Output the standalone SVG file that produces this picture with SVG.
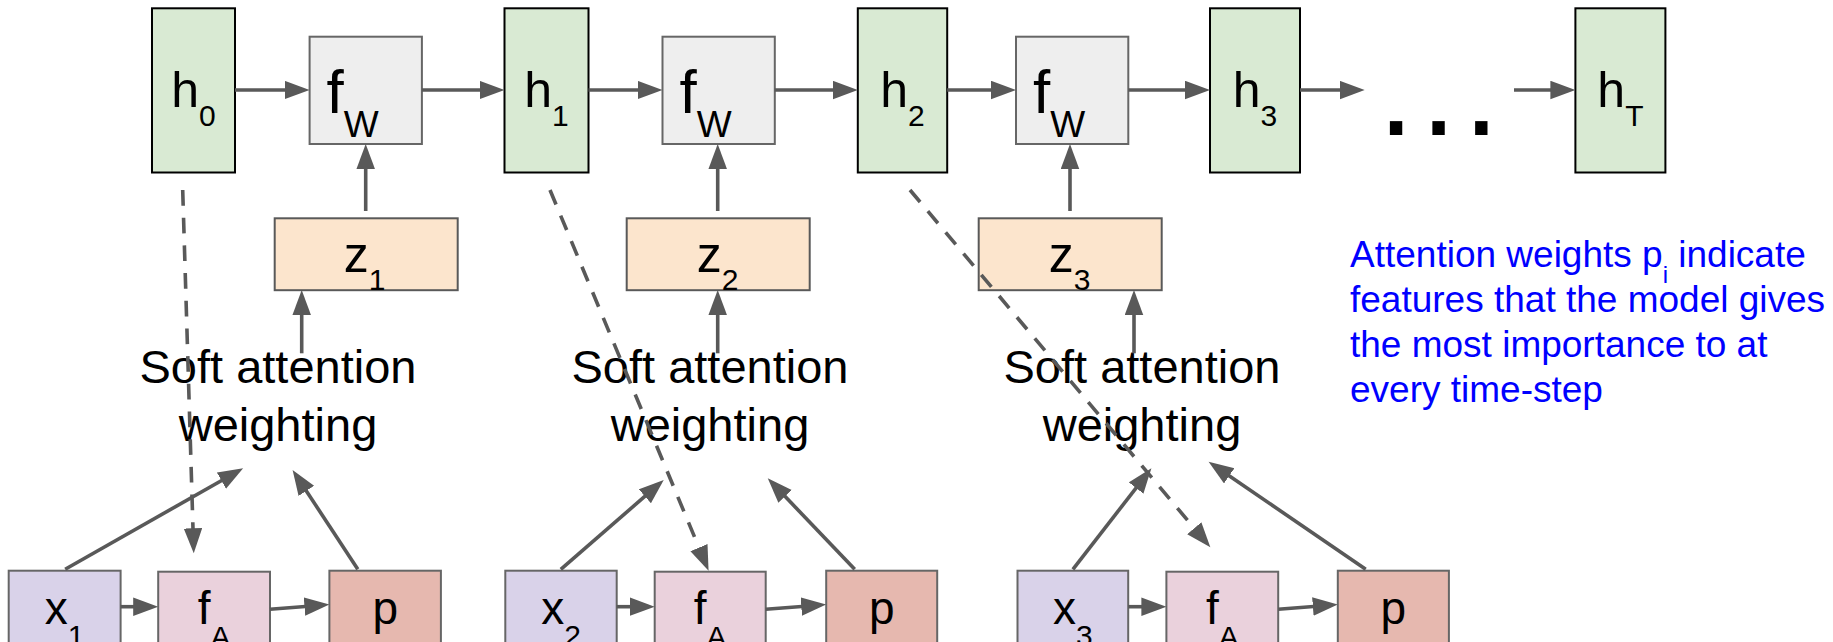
<svg xmlns="http://www.w3.org/2000/svg" width="1833" height="642" viewBox="0 0 1833 642">
<defs>
<marker id="ah" markerUnits="userSpaceOnUse" markerWidth="26" markerHeight="20" refX="17" refY="9.25" orient="auto">
<path d="M0,0 L25,9.25 L0,18.5 z" fill="#595959"/>
</marker>
</defs>
<style>
text{font-family:"Liberation Sans",Arial,sans-serif;fill:#000}
.h{fill:#d9ead3;stroke:#000;stroke-width:2}
.fw{fill:#eeeeee;stroke:#666;stroke-width:2}
.z{fill:#fce5cd;stroke:#595959;stroke-width:2}
.x{fill:#d9d2e9;stroke:#666;stroke-width:2}
.fa{fill:#ead1dc;stroke:#666;stroke-width:2}
.p{fill:#e6b8af;stroke:#666;stroke-width:2}
.lbl{font-size:50px;text-anchor:middle}
.fwl{font-size:62px}
.sat{font-size:47px;text-anchor:middle}
.bl{font-size:46px;text-anchor:middle}
.sub{font-size:30px}
.note{font-size:37px;fill:#0000ff}
.c line{stroke:#595959;stroke-width:3.6;marker-end:url(#ah)}
.c .d{stroke-dasharray:15.7 12}
</style>
<rect width="1833" height="642" fill="#fff"/>

<g id="h0"><rect class="h" x="152" y="8.3" width="83" height="164.2"/><text class="lbl" x="193.5" y="107.3">h<tspan class="sub" dy="19">0</tspan></text></g>
<g id="h1"><rect class="h" x="504.5" y="8.3" width="84" height="164.2"/><text class="lbl" x="546.5" y="107.3">h<tspan class="sub" dy="19">1</tspan></text></g>
<g id="h2"><rect class="h" x="857.8" y="8.3" width="89.4" height="164.2"/><text class="lbl" x="902.5" y="107.3">h<tspan class="sub" dy="19">2</tspan></text></g>
<g id="h3"><rect class="h" x="1210" y="8.3" width="90" height="164.2"/><text class="lbl" x="1255" y="107.3">h<tspan class="sub" dy="19">3</tspan></text></g>
<g id="hT"><rect class="h" x="1575.4" y="8.3" width="90" height="164.2"/><text class="lbl" x="1620.4" y="107.3">h<tspan class="sub" dy="19">T</tspan></text></g>
<g id="dots"><text x="1378" y="135" font-size="130" letter-spacing="6.5">...</text></g>

<g id="fw1"><rect class="fw" x="309.6" y="36.7" width="112.3" height="107.3"/><text class="fwl" x="326.6" y="113.3">f<tspan font-size="37" dy="23.4">W</tspan></text></g>
<g id="fw2"><rect class="fw" x="662.5" y="36.7" width="112.3" height="107.3"/><text class="fwl" x="679.5" y="113.3">f<tspan font-size="37" dy="23.4">W</tspan></text></g>
<g id="fw3"><rect class="fw" x="1016" y="36.7" width="112.3" height="107.3"/><text class="fwl" x="1033" y="113.3">f<tspan font-size="37" dy="23.4">W</tspan></text></g>

<g id="z1"><rect class="z" x="274.7" y="218.3" width="183" height="71.9"/><text class="lbl" x="364.5" y="271.7">z<tspan class="sub" dy="18">1</tspan></text></g>
<g id="z2"><rect class="z" x="626.7" y="218.3" width="183" height="71.9"/><text class="lbl" x="717.5" y="271.7">z<tspan class="sub" dy="18">2</tspan></text></g>
<g id="z3"><rect class="z" x="978.7" y="218.3" width="183" height="71.9"/><text class="lbl" x="1069.5" y="271.7">z<tspan class="sub" dy="18">3</tspan></text></g>

<g id="sa1"><text class="sat" x="278" y="382.5">Soft attention</text><text class="sat" x="278" y="441">weighting</text></g>
<g id="sa2"><text class="sat" x="710" y="382.5">Soft attention</text><text class="sat" x="710" y="441">weighting</text></g>
<g id="sa3"><text class="sat" x="1142" y="382.5">Soft attention</text><text class="sat" x="1142" y="441">weighting</text></g>

<g id="x1"><rect class="x" x="8.7" y="570.7" width="111.9" height="80"/><text class="bl" x="64.6" y="624">x<tspan class="sub" dy="22">1</tspan></text></g>
<g id="fa1"><rect class="fa" x="158.2" y="571.7" width="111.8" height="80"/><text class="bl" x="214.1" y="624">f<tspan class="sub" dy="23">A</tspan></text></g>
<g id="p1"><rect class="p" x="329.4" y="570.7" width="111.5" height="80"/><text class="bl" x="385.2" y="624">p</text></g>
<g id="x2"><rect class="x" x="505.3" y="570.7" width="111.4" height="80"/><text class="bl" x="561" y="624">x<tspan class="sub" dy="22">2</tspan></text></g>
<g id="fa2"><rect class="fa" x="654.7" y="571.7" width="111" height="80"/><text class="bl" x="710.2" y="624">f<tspan class="sub" dy="23">A</tspan></text></g>
<g id="p2"><rect class="p" x="826.2" y="570.7" width="111" height="80"/><text class="bl" x="881.7" y="624">p</text></g>
<g id="x3"><rect class="x" x="1017.5" y="570.7" width="110.7" height="80"/><text class="bl" x="1072.9" y="624">x<tspan class="sub" dy="22">3</tspan></text></g>
<g id="fa3"><rect class="fa" x="1166.4" y="571.7" width="111.8" height="80"/><text class="bl" x="1222.3" y="624">f<tspan class="sub" dy="23">A</tspan></text></g>
<g id="p3"><rect class="p" x="1337.8" y="570.7" width="111.1" height="80"/><text class="bl" x="1393.4" y="624">p</text></g>

<g id="note"><text class="note" x="1350" y="267">Attention weights p<tspan font-size="24" dy="16">i</tspan><tspan dy="-16"> indicate</tspan></text>
<text class="note" x="1350" y="312">features that the model gives</text>
<text class="note" x="1350" y="357">the most importance to at</text>
<text class="note" x="1350" y="402">every time-step</text></g>

<g id="connectors" class="c">
<line x1="235" y1="90" x2="301.6" y2="90"/>
<line x1="422" y1="90" x2="496.5" y2="90"/>
<line x1="588.5" y1="90" x2="654.5" y2="90"/>
<line x1="774.8" y1="90" x2="849.8" y2="90"/>
<line x1="947.2" y1="90" x2="1008" y2="90"/>
<line x1="1128.3" y1="90" x2="1202" y2="90"/>
<line x1="1300" y1="90" x2="1356.7" y2="90"/>
<line x1="1514" y1="90" x2="1567.4" y2="90"/>
<line x1="365.7" y1="211" x2="365.7" y2="152"/>
<line x1="717.7" y1="211" x2="717.7" y2="152"/>
<line x1="1070" y1="211" x2="1070" y2="152"/>
<line x1="301.7" y1="353.3" x2="301.7" y2="298"/>
<line x1="717.7" y1="353.3" x2="717.7" y2="298"/>
<line x1="1134" y1="353.3" x2="1134" y2="298"/>
<line class="d" x1="182.7" y1="190" x2="193.5" y2="545.3"/>
<line class="d" x1="550" y1="190" x2="705.5" y2="563.3"/>
<line class="d" x1="910" y1="190" x2="1205.2" y2="541.2"/>
<line x1="65.2" y1="569.3" x2="236.2" y2="472.2"/>
<line x1="357.8" y1="569.3" x2="297" y2="476.7"/>
<line x1="560.8" y1="569.3" x2="657.7" y2="485.2"/>
<line x1="854.7" y1="569.3" x2="773.3" y2="484.1"/>
<line x1="1072.9" y1="569.3" x2="1146.5" y2="474.6"/>
<line x1="1365.7" y1="569.3" x2="1215.2" y2="466.2"/>
<line x1="120.6" y1="606.7" x2="150.2" y2="606.7"/>
<line x1="270" y1="609.3" x2="321.4" y2="605.2"/>
<line x1="616.7" y1="606.7" x2="646.7" y2="606.7"/>
<line x1="765.7" y1="609.3" x2="818.2" y2="605.2"/>
<line x1="1128.2" y1="606.7" x2="1158.4" y2="606.7"/>
<line x1="1278.2" y1="609.3" x2="1329.8" y2="605.2"/>
</g>
</svg>
